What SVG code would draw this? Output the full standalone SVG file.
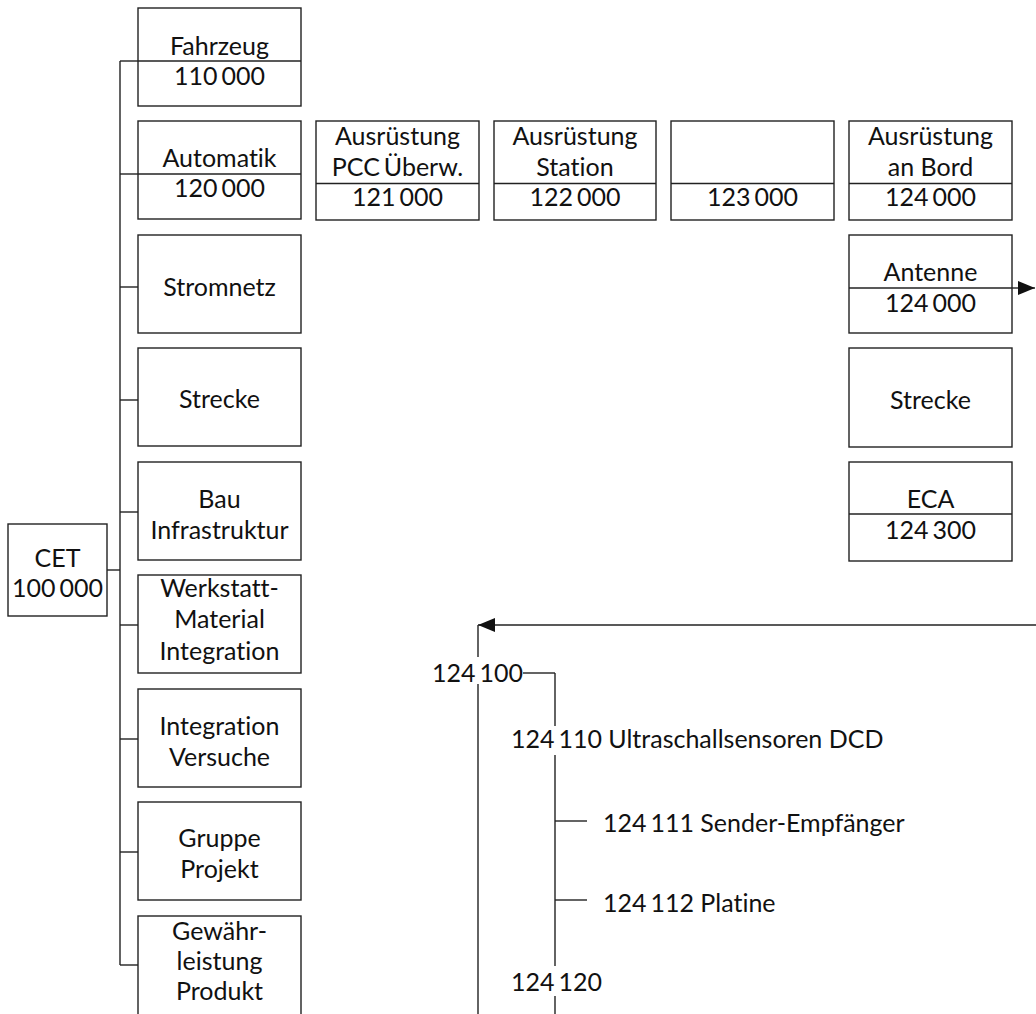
<svg xmlns="http://www.w3.org/2000/svg" width="1036" height="1014" viewBox="0 0 1036 1014">
<style>
rect.b{fill:#fff;stroke:#222;stroke-width:1.4}
line,path.c{stroke:#222;stroke-width:1.4;fill:none}
text{font-family:Lato,"Liberation Sans",sans-serif;font-size:25px;fill:#111;font-variant-ligatures:none;font-feature-settings:"liga" 0,"dlig" 0}
text.m{text-anchor:middle}
text.n{word-spacing:-2.5px}
</style>
<defs>
<marker id="ah" viewBox="0 0 18 14" refX="17" refY="7" markerWidth="18" markerHeight="14" markerUnits="userSpaceOnUse" orient="auto">
<path d="M0,0 L17,7 L0,14 Z" fill="#111"/>
</marker>
</defs>
<rect width="1036" height="1014" fill="#fff"/>
<g id="connectors">
<line x1="120" y1="61" x2="120" y2="965"/>
<line x1="107" y1="570" x2="120" y2="570"/>
<line x1="120" y1="61" x2="138" y2="61"/>
<line x1="120" y1="174" x2="138" y2="174"/>
<line x1="120" y1="287" x2="138" y2="287"/>
<line x1="120" y1="400" x2="138" y2="400"/>
<line x1="120" y1="512" x2="138" y2="512"/>
<line x1="120" y1="625" x2="138" y2="625"/>
<line x1="120" y1="739" x2="138" y2="739"/>
<line x1="120" y1="852" x2="138" y2="852"/>
<line x1="120" y1="965" x2="138" y2="965"/>
<line x1="1012" y1="288" x2="1035" y2="288" marker-end="url(#ah)"/>
<line x1="1036" y1="625" x2="478" y2="625" marker-end="url(#ah)"/>
<line x1="478" y1="625" x2="478" y2="657"/>
<line x1="478" y1="684" x2="478" y2="1014"/>
<line x1="523" y1="673" x2="555" y2="673"/>
<line x1="555" y1="673" x2="555" y2="726"/>
<line x1="555" y1="755" x2="555" y2="966"/>
<line x1="555" y1="996" x2="555" y2="1014"/>
<line x1="555" y1="821" x2="587" y2="821"/>
<line x1="555" y1="900" x2="587" y2="900"/>
</g>
<g id="cet"><rect class="b" x="8" y="524" width="99" height="92"/><text class="m" x="57.5" y="567">CET</text><text class="m n" x="57.5" y="597">100 000</text></g>
<g id="fahrzeug"><rect class="b" x="138" y="8" width="163" height="98"/><line x1="138" y1="61" x2="301" y2="61"/><text class="m" x="219.5" y="55">Fahrzeug</text><text class="m n" x="219.5" y="85">110 000</text></g>
<g id="automatik"><rect class="b" x="138" y="121" width="163" height="98"/><line x1="138" y1="174" x2="301" y2="174"/><text class="m" x="219.5" y="167">Automatik</text><text class="m n" x="219.5" y="197">120 000</text></g>
<g id="stromnetz"><rect class="b" x="138" y="235" width="163" height="98"/><text class="m" x="219.5" y="296">Stromnetz</text></g>
<g id="strecke1"><rect class="b" x="138" y="348" width="163" height="98"/><text class="m" x="219.5" y="408">Strecke</text></g>
<g id="bau"><rect class="b" x="138" y="462" width="163" height="98"/><text class="m" x="219.5" y="508">Bau</text><text class="m" x="219.5" y="539">Infrastruktur</text></g>
<g id="werkstatt"><rect class="b" x="138" y="575" width="163" height="98"/><text class="m" x="219.5" y="597">Werkstatt-</text><text class="m" x="219.5" y="628">Material</text><text class="m" x="219.5" y="660">Integration</text></g>
<g id="integration"><rect class="b" x="138" y="689" width="163" height="98"/><text class="m" x="219.5" y="735">Integration</text><text class="m" x="219.5" y="766">Versuche</text></g>
<g id="gruppe"><rect class="b" x="138" y="802" width="163" height="98"/><text class="m" x="219.5" y="847">Gruppe</text><text class="m" x="219.5" y="878">Projekt</text></g>
<g id="gewaehr"><rect class="b" x="138" y="916" width="163" height="99"/><text class="m" x="219.5" y="940">Gewähr-</text><text class="m" x="219.5" y="970">leistung</text><text class="m" x="219.5" y="1000">Produkt</text></g>
<g id="n121"><rect class="b" x="316" y="121" width="163" height="99"/><line x1="316" y1="183.5" x2="479" y2="183.5"/><text class="m" x="397.5" y="145">Ausrüstung</text><text class="m n" x="397.5" y="176">PCC Überw.</text><text class="m n" x="397.5" y="206">121 000</text></g>
<g id="n122"><rect class="b" x="494" y="121" width="162" height="99"/><line x1="494" y1="183.5" x2="656" y2="183.5"/><text class="m" x="575" y="145">Ausrüstung</text><text class="m" x="575" y="176">Station</text><text class="m n" x="575" y="206">122 000</text></g>
<g id="n123"><rect class="b" x="671" y="121" width="163" height="99"/><line x1="671" y1="183.5" x2="834" y2="183.5"/><text class="m n" x="752.5" y="206">123 000</text></g>
<g id="n124"><rect class="b" x="849" y="121" width="163" height="99"/><line x1="849" y1="183.5" x2="1012" y2="183.5"/><text class="m" x="930.5" y="145">Ausrüstung</text><text class="m" x="930.5" y="176">an Bord</text><text class="m n" x="930.5" y="206">124 000</text></g>
<g id="antenne"><rect class="b" x="849" y="235" width="163" height="98"/><line x1="849" y1="288" x2="1012" y2="288"/><text class="m" x="930.5" y="281">Antenne</text><text class="m n" x="930.5" y="312">124 000</text></g>
<g id="strecke2"><rect class="b" x="849" y="348" width="163" height="99"/><text class="m" x="930.5" y="409">Strecke</text></g>
<g id="eca"><rect class="b" x="849" y="462" width="163" height="99"/><line x1="849" y1="514" x2="1012" y2="514"/><text class="m" x="930.5" y="508">ECA</text><text class="m n" x="930.5" y="539">124 300</text></g>
<g id="t124100"><text class="n" x="432" y="682">124 100</text></g>
<g id="t124110"><text x="511" y="748">124<tspan dx="-2.5"> </tspan>110 Ultraschallsensoren DCD</text></g>
<g id="t124111"><text x="603" y="832">124<tspan dx="-2.5"> </tspan>111 Sender-Empfänger</text></g>
<g id="t124112"><text x="603" y="912">124<tspan dx="-2.5"> </tspan>112 Platine</text></g>
<g id="t124120"><text class="n" x="511" y="991">124 120</text></g>
</svg>
